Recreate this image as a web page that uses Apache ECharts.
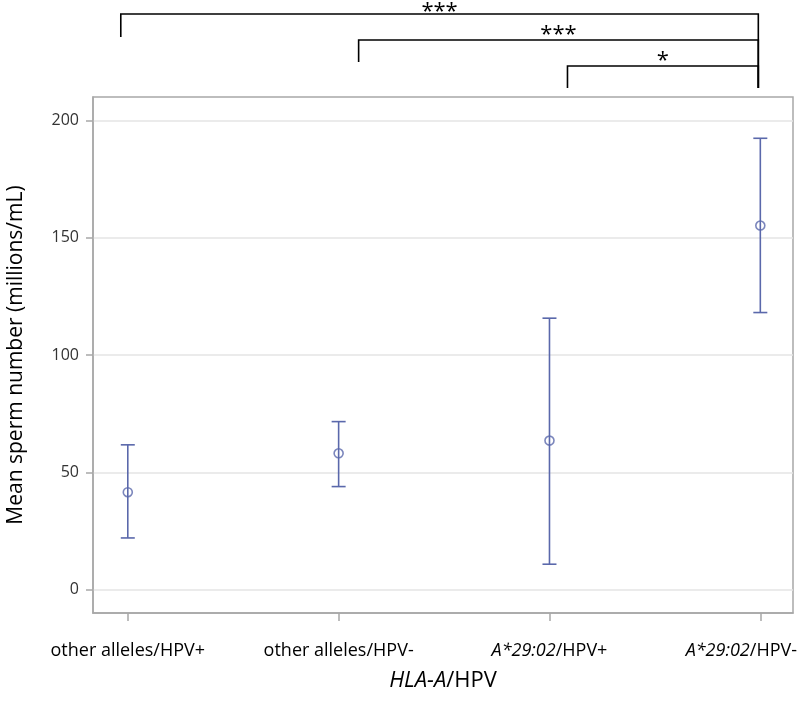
<!DOCTYPE html>
<html>
<head>
<meta charset="utf-8">
<script src="https://cdn.jsdelivr.net/npm/echarts@6/dist/echarts.min.js"></script>
<style>
  html, body { margin: 0; padding: 0; background: #fff; overflow: hidden; }
  #sperm-chart { width: 800px; height: 720px; }
</style>
</head>
<body>
<div id="sperm-chart"></div>
<script>
// groups on the x axis
const categories = ['other alleles/HPV+', 'other alleles/HPV-', 'A*29:02/HPV+', 'A*29:02/HPV-'];
const italicPart = ['', '', 'A*29:02', 'A*29:02'];
// mean and 95% CI
const meanValues = [41.5, 58.1, 63.5, 155.2];
const lowerValues = [22.0, 43.9, 10.8, 118.1];
const upperValues = [61.7, 71.6, 115.7, 192.4];
const yTicks = [0, 50, 100, 150, 200];

// significance brackets: from group, to group, stars
const bracketFrom = [0, 1, 2];
const bracketTo = [3, 3, 3];
const bracketStars = ['***', '***', '*'];

const markColor = '#5a68ab';
const fontFamily = '"Open Sans", "Noto Sans", sans-serif';

let chart = echarts.init(document.getElementById('sperm-chart'));

function catLabel(i) {
    const it = italicPart[i];
    let s = it ? '{i|' + it + '}' + categories[i].slice(it.length) : categories[i];
    // last label is pushed left so it stays inside the picture
    if (i === categories.length - 1) s += '{pad| }';
    return s;
}

const option = {
    animation: false,
    grid: {
        left: 93,
        right: 7,
        top: 97,
        bottom: 107,
        outerBoundsMode: 'none',
        containLabel: false,
        show: true,
        borderColor: '#a8a8a8',
        borderWidth: 1.5
    },
    xAxis: {
        type: 'value',
        min: -0.165,
        max: 3.155,
        name: '{i|HLA-A}/HPV',
        nameLocation: 'middle',
        nameGap: 57,
        nameTextStyle: {
            fontFamily: fontFamily,
            fontSize: 22,
            color: '#000',
            rich: { i: { fontStyle: 'italic', fontFamily: fontFamily, fontSize: 22, color: '#000' } }
        },
        axisLine: { show: true, onZero: false, lineStyle: { color: '#a8a8a8', width: 1.5 } },
        axisTick: {
            show: true,
            length: 8,
            customValues: [0, 1, 2, 3],
            lineStyle: { color: '#a8a8a8', width: 1.5 }
        },
        axisLabel: {
            customValues: [0, 1, 2, 3],
            margin: 29,
            fontFamily: fontFamily,
            fontSize: 18,
            color: '#000',
            formatter: (v) => catLabel(Math.round(v)),
            rich: {
                i: { fontStyle: 'italic', fontFamily: fontFamily, fontSize: 18, color: '#000' },
                pad: { width: 38, fontSize: 18 }
            }
        },
        splitLine: { show: false }
    },
    yAxis: {
        type: 'value',
        min: -10,
        max: 210,
        name: 'Mean sperm number (millions/mL)',
        nameLocation: 'middle',
        nameGap: 66,
        nameTextStyle: { fontFamily: fontFamily, fontSize: 21, color: '#000' },
        axisLine: { show: true, onZero: false, lineStyle: { color: '#a8a8a8', width: 1.5 } },
        axisTick: {
            show: true,
            length: 7,
            customValues: yTicks,
            lineStyle: { color: '#a8a8a8', width: 1.5 }
        },
        axisLabel: {
            customValues: yTicks,
            margin: 14,
            fontFamily: fontFamily,
            fontSize: 16,
            color: '#333'
        },
        splitLine: { show: true, lineStyle: { color: '#e4e4e4', width: 1.5 } }
    },
    series: [
        {
            name: 'CI',
            type: 'custom',
            renderItem: function (params, api) {
                const x = api.value(0);
                const lo = api.coord([x, api.value(1)]);
                const hi = api.coord([x, api.value(2)]);
                const hw = 7;
                const st = { stroke: markColor, lineWidth: 1.6 };
                return {
                    type: 'group',
                    children: [
                        { type: 'line', shape: { x1: lo[0], y1: lo[1], x2: hi[0], y2: hi[1] }, style: st },
                        { type: 'line', shape: { x1: lo[0] - hw, y1: lo[1], x2: lo[0] + hw, y2: lo[1] }, style: st },
                        { type: 'line', shape: { x1: hi[0] - hw, y1: hi[1], x2: hi[0] + hw, y2: hi[1] }, style: st }
                    ]
                };
            },
            data: categories.map((c, i) => [i, lowerValues[i], upperValues[i]])
        },
        {
            name: 'Mean',
            type: 'scatter',
            symbol: 'circle',
            symbolSize: 9,
            itemStyle: { color: 'rgba(255,255,255,0)', borderColor: markColor, borderWidth: 1.6 },
            data: categories.map((c, i) => [i, meanValues[i]]),
            z: 3
        }
    ]
};

chart.setOption(option);

// brackets above the plot, attached to the group positions
function drawBrackets() {
    const levels = [14, 40, 66];   // pixel rows of the bracket bars
    const dropEnd = [37, 62, 88];
    const rightEnd = 88;
    const children = [];
    const st = { stroke: '#000', lineWidth: 1.6, fill: null };
    bracketFrom.forEach((from, k) => {
        const x1 = chart.convertToPixel({ gridIndex: 0 }, [from, 0])[0] + [-7, 20, 18][k];
        const x2 = chart.convertToPixel({ gridIndex: 0 }, [bracketTo[k], 0])[0] - 2;
        const y = levels[k];
        children.push({
            type: 'polyline',
            shape: { points: [[x1, dropEnd[k]], [x1, y], [x2, y], [x2, rightEnd]] },
            style: st
        });
        children.push({
            type: 'text',
            style: {
                text: bracketStars[k],
                x: (x1 + x2) / 2,
                y: y - (k === 0 ? 2 : 5),
                align: 'center',
                verticalAlign: 'middle',
                fontFamily: fontFamily,
                fontSize: 22,
                fill: '#000'
            }
        });
    });
    chart.setOption({ graphic: [{ type: 'group', id: 'brackets', children: children }] });
}
drawBrackets();

window.addEventListener('resize', resize, { passive: true });
function resize() {
    chart.resize();
    drawBrackets();
}
</script>
</body>
</html>
